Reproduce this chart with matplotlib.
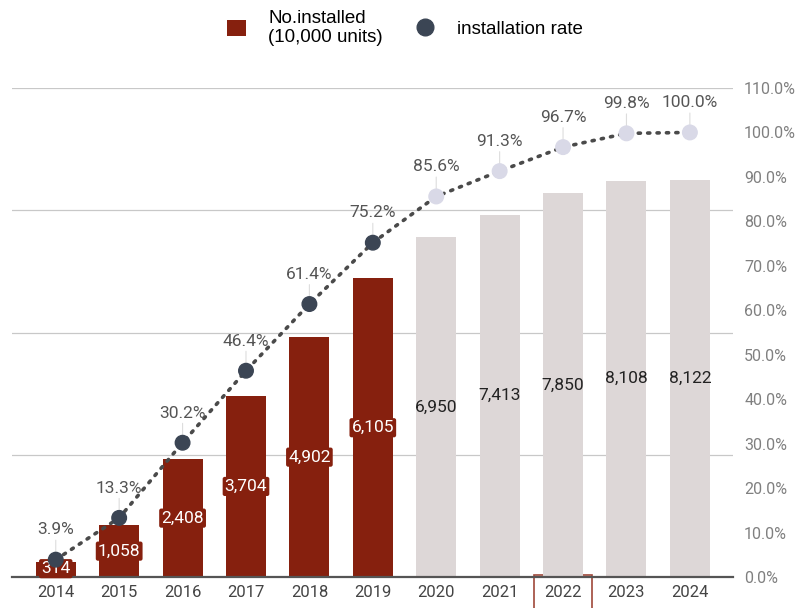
import matplotlib.pyplot as plt
from matplotlib.lines import Line2D
from matplotlib.patches import Patch

plt.rcParams['font.family'] = ['Liberation Sans', 'DejaVu Sans']

# data
years = ['2014', '2015', '2016', '2017', '2018', '2019',
         '2020', '2021', '2022', '2023', '2024']
installed = [314, 1058, 2408, 3704, 4902, 6105, 6950, 7413, 7850, 8108, 8122]
rate = [3.9, 13.3, 30.2, 46.4, 61.4, 75.2, 85.6, 91.3, 96.7, 99.8, 100.0]
n_actual = 6  # 2014-2019 actual, rest forecast

dark_red = '#86200e'
light_bar = '#ddd7d7'
dark_dot = '#3b4554'
light_dot = '#d9d9e7'
roboto = ['Roboto', 'DejaVu Sans']

fig = plt.figure(figsize=(8.02, 6.08), dpi=100)
ax = fig.add_axes([12 / 802, 31 / 608, 721 / 802, 489 / 608])
ax2 = ax.twinx()

x = list(range(len(years)))
bar_colors = [dark_red if i < n_actual else light_bar for i in x]
ax.bar(x, installed, width=0.63, color=bar_colors, zorder=2)

ax.set_ylim(0, 10000)
ax.set_yticks([0, 2500, 5000, 7500, 10000])
ax.set_yticklabels([])
ax.tick_params(axis='y', length=0)
ax.grid(axis='y', color='#c8c8c8', linewidth=0.9, zorder=0)
ax.set_axisbelow(True)
ax.set_xlim(-0.69, 10.68)
ax.set_xticks(x)
ax.set_xticklabels(years, family=roboto, fontsize=12, color='#444444')
ax.tick_params(axis='x', length=0, pad=6)
for s in ['top', 'right', 'left']:
    ax.spines[s].set_visible(False)
for s in ['top', 'right', 'left', 'bottom']:
    ax2.spines[s].set_visible(False)
ax.spines['bottom'].set_color('#555555')
ax.spines['bottom'].set_linewidth(1.6)

# box around 2022 label
for lbl in ax.get_xticklabels():
    if lbl.get_text() == '2022':
        lbl.set_bbox(dict(boxstyle='square,pad=0.6', fc='none', ec='#a0483a', lw=1.2))

# bar value labels
for i, v in enumerate(installed):
    txt = f'{v:,}'
    if i < n_actual:
        ax.text(i, max(v / 2, 170), txt, ha='center', va='center', fontsize=12.5,
                family=roboto, color='white', zorder=5,
                bbox=dict(boxstyle='round,pad=0.12', fc=dark_red, ec='none'))
    else:
        ax.text(i, v / 2, txt, ha='center', va='center', fontsize=12.5,
                family=roboto, color='#222222', zorder=5)

# rate line
ax2.set_ylim(0, 110)
ax2.set_yticks(range(0, 111, 10))
ax2.set_yticklabels([f'{t:.1f}%' for t in range(0, 111, 10)],
                    family=roboto, fontsize=11.5, color='#808080')
ax2.tick_params(axis='y', length=0, pad=8)
ax2.plot(x, rate, color='#4a4a4a', linewidth=2.6, linestyle=(0, (0.6, 2.0)),
         dash_capstyle='round', zorder=3)
dot_colors = [dark_dot if i < n_actual else light_dot for i in x]
ax2.scatter(x, rate, s=110, c=dot_colors, zorder=4)
for i, r in enumerate(rate):
    ax2.annotate(f'{r:.1f}%', xy=(i, r), xytext=(0, 16), textcoords='offset points',
                 ha='center', va='bottom', fontsize=12.5, color='#555555',
                 family=roboto,
                 arrowprops=dict(arrowstyle='-', color='#dddddd', lw=0.8,
                                 shrinkA=0, shrinkB=5))

# legend
handles = [Patch(facecolor=dark_red, edgecolor='none'),
           Line2D([], [], marker='o', linestyle='none', markersize=12,
                  markerfacecolor=dark_dot, markeredgecolor=dark_dot)]
labels = ['No.installed\n(10,000 units)', 'installation rate']
fig.legend(handles, labels, loc='upper center', bbox_to_anchor=(0.505, 1.012), ncol=2,
           frameon=False, fontsize=13.5, handlelength=1.0, handleheight=1.0,
           columnspacing=1.75, handletextpad=1.2)

fig.savefig('out.png', dpi=100)
